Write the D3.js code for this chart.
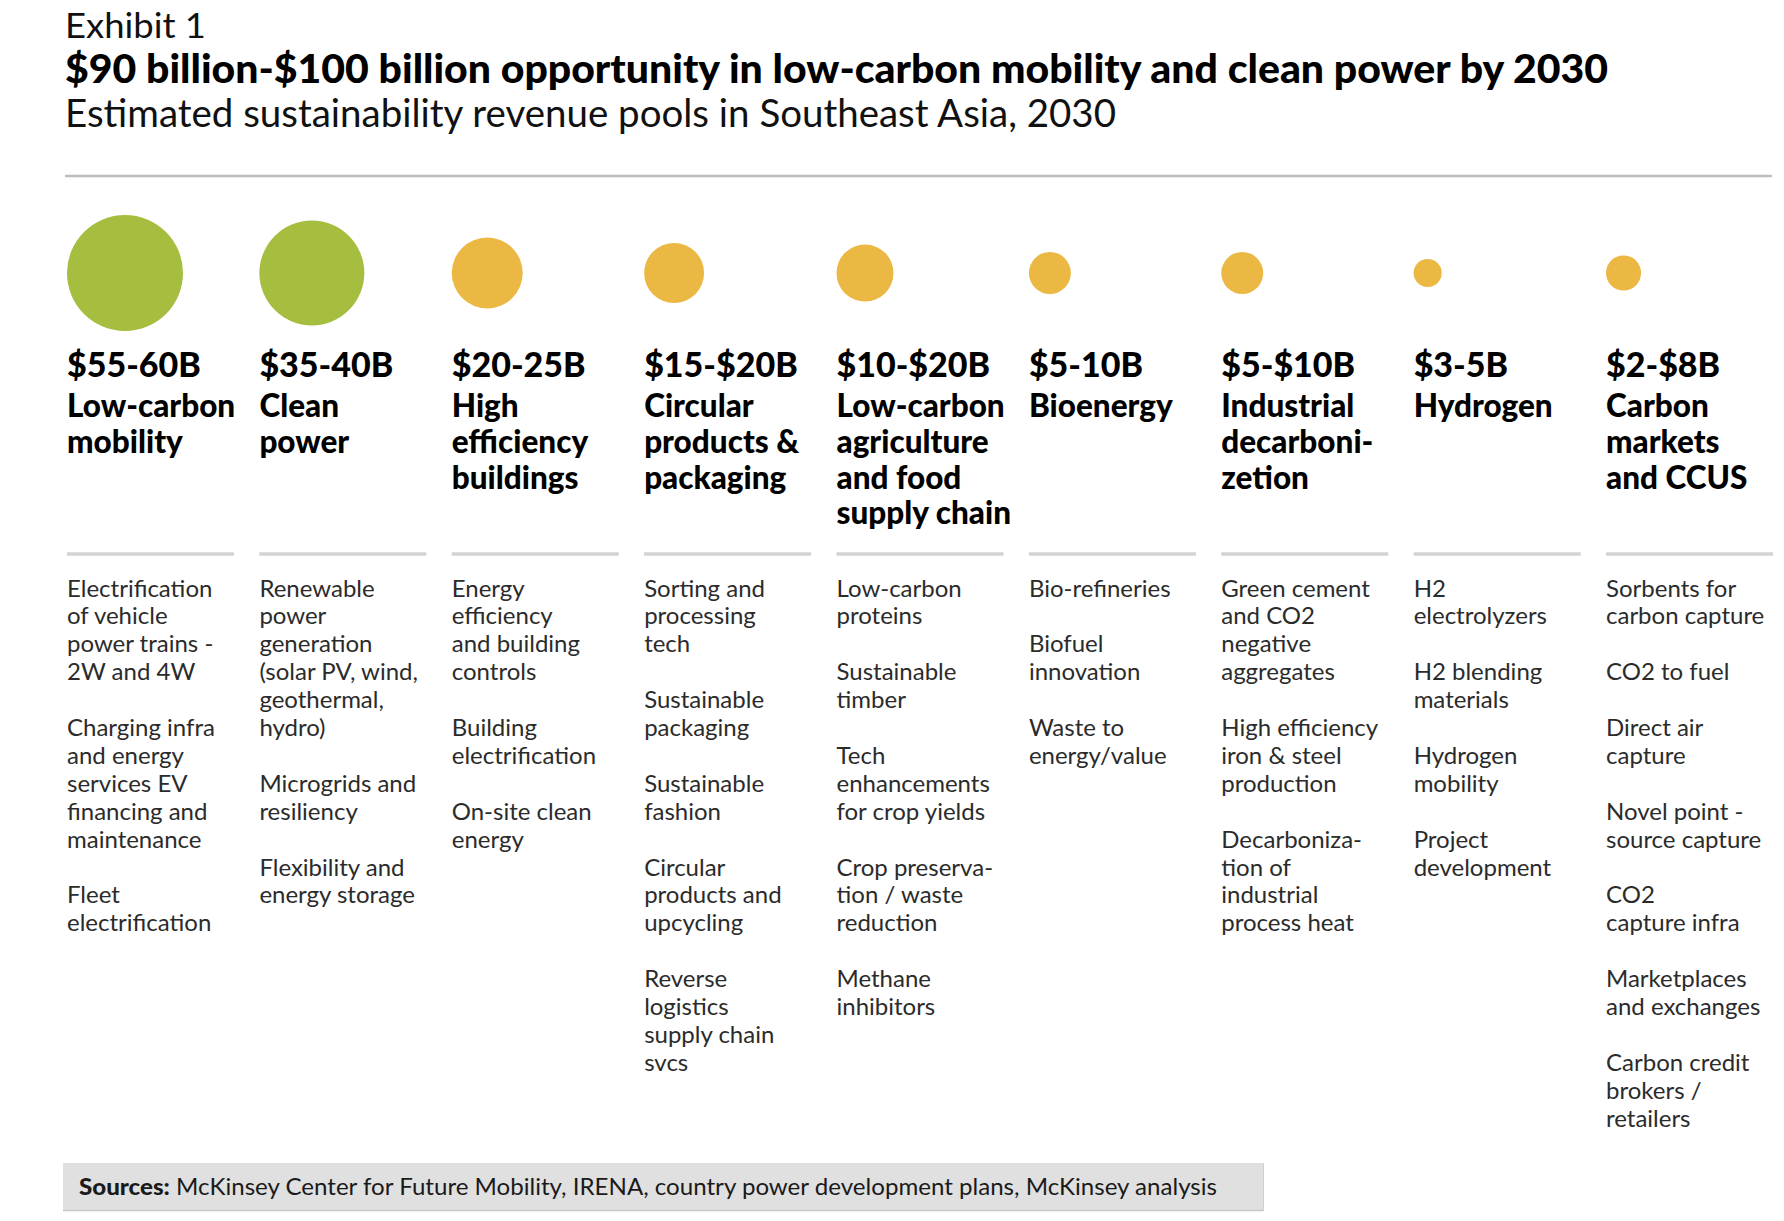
<!DOCTYPE html>
<html>
<head>
<meta charset="utf-8">
<script src="https://cdn.jsdelivr.net/npm/d3@7"></script>
<style>
  html, body { margin: 0; padding: 0; background: #fff; }
  svg { display: block; }
  text { font-family: Lato, "Open Sans", sans-serif; }
</style>
</head>
<body>
<svg id="chart" width="1784" height="1221"></svg>
<script>
// ---------------- DATA ----------------
const exhibitLabel = "Exhibit 1";
const titleText = "$90 billion-$100 billion opportunity in low-carbon mobility and clean power by 2030";
const subtitleText = "Estimated sustainability revenue pools in Southeast Asia, 2030";

const categories = [
  "Low-carbon\nmobility",
  "Clean\npower",
  "High\nefficiency\nbuildings",
  "Circular\nproducts &\npackaging",
  "Low-carbon\nagriculture\nand food\nsupply chain",
  "Bioenergy",
  "Industrial\ndecarboni-\nzetion",
  "Hydrogen",
  "Carbon\nmarkets\nand CCUS"
];

const rangeLabels = ["$55-60B", "$35-40B", "$20-25B", "$15-$20B", "$10-$20B", "$5-10B", "$5-$10B", "$3-5B", "$2-$8B"];
const poolLow  = [55, 35, 20, 15, 10, 5, 5, 3, 2];
const poolHigh = [60, 40, 25, 20, 20, 10, 10, 5, 8];
// bubble size ($B)
const bubbleSize = [58, 47.5, 21.7, 15.5, 14, 7.6, 7.6, 3.4, 5.3];
const bubbleGroup = ["lead", "lead", "other", "other", "other", "other", "other", "other", "other"];

const subsegments = [
  ["Electrification\nof vehicle\npower trains -\n2W and 4W", "Charging infra\nand energy\nservices EV\nfinancing and\nmaintenance", "Fleet\nelectrification"],
  ["Renewable\npower\ngeneration\n(solar PV, wind,\ngeothermal,\nhydro)", "Microgrids and\nresiliency", "Flexibility and\nenergy storage"],
  ["Energy\nefficiency\nand building\ncontrols", "Building\nelectrification", "On-site clean\nenergy"],
  ["Sorting and\nprocessing\ntech", "Sustainable\npackaging", "Sustainable\nfashion", "Circular\nproducts and\nupcycling", "Reverse\nlogistics\nsupply chain\nsvcs"],
  ["Low-carbon\nproteins", "Sustainable\ntimber", "Tech\nenhancements\nfor crop yields", "Crop preserva-\ntion / waste\nreduction", "Methane\ninhibitors"],
  ["Bio-refineries", "Biofuel\ninnovation", "Waste to\nenergy/value"],
  ["Green cement\nand CO2\nnegative\naggregates", "High efficiency\niron & steel\nproduction", "Decarboniza-\ntion of\nindustrial\nprocess heat"],
  ["H2\nelectrolyzers", "H2 blending\nmaterials", "Hydrogen\nmobility", "Project\ndevelopment"],
  ["Sorbents for\ncarbon capture", "CO2 to fuel", "Direct air\ncapture", "Novel point -\nsource capture", "CO2\ncapture infra", "Marketplaces\nand exchanges", "Carbon credit\nbrokers /\nretailers"]
];

const sourcesLabel = "Sources:";
const sourcesText = " McKinsey Center for Future Mobility, IRENA, country power development plans, McKinsey analysis";

// ---------------- LAYOUT ----------------
const svg = d3.select("#chart");

const colIndex = d3.range(categories.length);
const x = d3.scaleLinear().domain([0, categories.length - 1]).range([67, 1606]);
const r = d3.scaleSqrt().domain([0, 58]).range([0, 58]);
const color = d3.scaleOrdinal().domain(["lead", "other"]).range(["#A6BE3F", "#EBB843"]);

const bubbleY = 273;
const valueBaseline = 377;
const catBaseline = 417;
const catStep = 35.8;
const sepY = 554;
const colW = 167;
const bodyBaseline = 596.5;
const bodyStep = 27.9;

// Header
svg.append("text").attr("x", 65).attr("y", 37.5)
  .attr("font-size", 35).attr("font-weight", 400).attr("fill", "#111")
  .attr("textLength", 141).attr("lengthAdjust", "spacingAndGlyphs")
  .text(exhibitLabel);
svg.append("text").attr("x", 65).attr("y", 83)
  .attr("font-size", 40).attr("font-weight", 900).attr("fill", "#000")
  .attr("textLength", 1543).attr("lengthAdjust", "spacingAndGlyphs")
  .text(titleText);
svg.append("text").attr("x", 65).attr("y", 127)
  .attr("font-size", 38).attr("font-weight", 400).attr("fill", "#111")
  .attr("textLength", 1051).attr("lengthAdjust", "spacingAndGlyphs")
  .text(subtitleText);
svg.append("line").attr("x1", 65).attr("x2", 1772).attr("y1", 176).attr("y2", 176)
  .attr("stroke", "#bdbdbd").attr("stroke-width", 2.5);

// Columns
const cols = svg.selectAll("g.col").data(colIndex).join("g").attr("class", "col")
  .attr("transform", i => `translate(${x(i)},0)`);

cols.append("circle")
  .attr("cx", i => r(bubbleSize[i]))
  .attr("cy", bubbleY)
  .attr("r", i => r(bubbleSize[i]))
  .attr("fill", i => color(bubbleGroup[i]));

cols.append("text")
  .attr("x", 0).attr("y", valueBaseline)
  .attr("font-size", 34).attr("font-weight", 900).attr("fill", "#000")
  .text(i => rangeLabels[i]);

cols.each(function(i) {
  const g = d3.select(this);
  const lines = categories[i].split("\n");
  g.append("text")
    .attr("font-size", 31.5).attr("font-weight", 900).attr("fill", "#000")
    .selectAll("tspan").data(lines).join("tspan")
    .attr("x", 0).attr("y", (d, k) => catBaseline + k * catStep)
    .text(d => d);

  g.append("line").attr("x1", 0).attr("x2", colW).attr("y1", sepY).attr("y2", sepY)
    .attr("stroke", "#d3d3d3").attr("stroke-width", 3.5);

  // body lines with a blank line between items
  const bodyLines = [];
  subsegments[i].forEach((item, k) => {
    if (k > 0) bodyLines.push(null);
    item.split("\n").forEach(l => bodyLines.push(l));
  });
  g.append("text")
    .attr("font-size", 24).attr("font-weight", 400).attr("fill", "#2b2b2b")
    .selectAll("tspan").data(bodyLines.map((l, k) => ({l, k})).filter(d => d.l !== null)).join("tspan")
    .attr("x", 0).attr("y", d => bodyBaseline + d.k * bodyStep)
    .text(d => d.l);
});

// Sources box
svg.append("rect").attr("x", 63).attr("y", 1163).attr("width", 1201).attr("height", 48)
  .attr("fill", "#e0e0e0");
svg.append("line").attr("x1", 63).attr("x2", 1264).attr("y1", 1210.5).attr("y2", 1210.5)
  .attr("stroke", "#c6c6c6").attr("stroke-width", 1.5);
svg.append("line").attr("x1", 1263.5).attr("x2", 1263.5).attr("y1", 1163).attr("y2", 1211)
  .attr("stroke", "#d0d0d0").attr("stroke-width", 1);
const src = svg.append("text").attr("x", 79).attr("y", 1195)
  .attr("font-size", 23).attr("fill", "#1a1a1a")
  .attr("textLength", 1138).attr("lengthAdjust", "spacingAndGlyphs");
src.append("tspan").attr("font-weight", 900).text(sourcesLabel);
src.append("tspan").attr("font-weight", 400).text(sourcesText);
</script>
</body>
</html>
